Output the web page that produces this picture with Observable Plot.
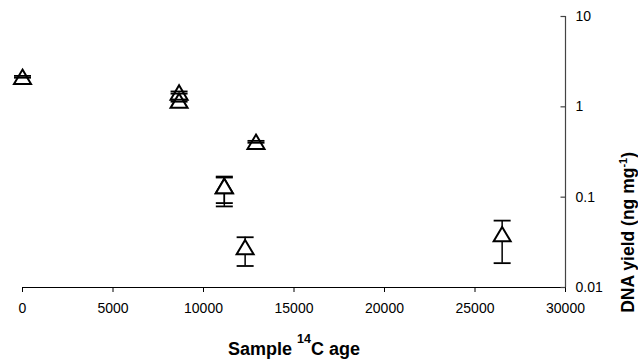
<!DOCTYPE html>
<html>
<head>
<meta charset="utf-8">
<script src="https://cdn.jsdelivr.net/npm/d3@7"></script>
<script src="https://cdn.jsdelivr.net/npm/@observablehq/plot@0.6"></script>
<style>
  html, body { margin: 0; padding: 0; background: #fff; }
  #chart { width: 638px; height: 361px; }
</style>
</head>
<body>
<div id="chart"></div>
<script>
// ---- data ----
const ages   = [0, 8650, 8650, 11150, 11150, 12300, 12900, 26500];
const yields = [2.15, 1.44, 1.17, 0.133, 0.133, 0.028, 0.41, 0.039];
const lows   = [2.10, 1.40, 1.14, 0.079, 0.086, 0.0173, 0.40, 0.0186];
const highs  = [2.20, 1.48, 1.20, 0.169, 0.165, 0.036, 0.42, 0.055];

const xDomain = [0, 30000];
const xTicks = [0, 5000, 10000, 15000, 20000, 25000, 30000];
const yDomain = [0.01, 10];
const yTicks = [0.01, 0.1, 1, 10];
const yTickLabels = ["0.01", "0.1", "1", "10"];
const xTitle = "Sample 14C age";
const yTitle = "DNA yield (ng mg-1)";

const data = ages.map((a, i) => ({age: a, y: yields[i], lo: lows[i], hi: highs[i]}));

// custom symbols
const triangleSym = {draw(ctx) { const w = 8.5, h = 7.2; ctx.moveTo(0, -h); ctx.lineTo(w, h); ctx.lineTo(-w, h); ctx.closePath(); }};
const capSym = {draw(ctx) { ctx.moveTo(-8.5, 0); ctx.lineTo(8.5, 0); }};
const yTickSym = {draw(ctx) { ctx.moveTo(-5, 0); ctx.lineTo(0, 0); }};

const font = "'Liberation Sans', Arial, Helvetica, sans-serif";

const chart = Plot.plot({
  width: 638,
  height: 361,
  marginTop: 16,
  marginRight: 73,
  marginBottom: 74,
  marginLeft: 22,
  style: {fontFamily: font, background: "#fff", color: "#000"},
  x: {domain: xDomain},
  y: {type: "log", domain: yDomain},
  marks: [
    Plot.axisX({ticks: xTicks, tickSize: 5, tickPadding: 11, tickFormat: d => String(d), fontSize: 14, label: null, stroke: "#000"}),
    Plot.axisY({anchor: "right", ticks: yTicks, tickSize: 0, tickPadding: 10, tickFormat: d => yTickLabels[yTicks.indexOf(d)], fontSize: 14, label: null}),
    Plot.ruleY([yDomain[0]], {stroke: "#000", strokeWidth: 1.2}),
    Plot.ruleX([xDomain[1]], {stroke: "#444", strokeWidth: 1.2}),
    Plot.dot(yTicks, {x: () => xDomain[1], y: d => d, symbol: yTickSym, stroke: "#444", strokeWidth: 1.2}),
    Plot.ruleX(data, {x: "age", y1: "lo", y2: "hi", stroke: "#000", strokeWidth: 1.5}),
    Plot.dot(data, {x: "age", y: "y", symbol: triangleSym, stroke: "#000", fill: "#fff", strokeWidth: 2}),
    Plot.dot(data, {x: "age", y: "lo", symbol: capSym, stroke: "#000", strokeWidth: 1.8}),
    Plot.dot(data, {x: "age", y: "hi", symbol: capSym, stroke: "#000", strokeWidth: 1.8}),
    Plot.text([xTitle], {frameAnchor: "bottom", dy: 62, lineAnchor: "middle", fontSize: 18, fontWeight: "bold", fill: "#000"}),
    Plot.text([yTitle], {frameAnchor: "right", dx: 63, rotate: -90, lineAnchor: "middle", fontSize: 17.5, fontWeight: "bold", fill: "#000"})
  ]
});

document.getElementById("chart").appendChild(chart);

// superscripts
d3.select(chart).selectAll("text").each(function() {
  const t = d3.select(this);
  const s = this.textContent;
  if (s === xTitle) {
    t.text(null);
    t.append("tspan").text("Sample ");
    t.append("tspan").attr("font-size", 12.5).attr("dy", -12).text("14");
    t.append("tspan").attr("dy", 12).text("C age");
  } else if (s === yTitle) {
    t.text(null);
    t.append("tspan").text("DNA yield (ng mg");
    t.append("tspan").attr("font-size", 11).attr("dy", -7).text("-1");
    t.append("tspan").attr("dy", 7).text(")");
  }
});
</script>
</body>
</html>
